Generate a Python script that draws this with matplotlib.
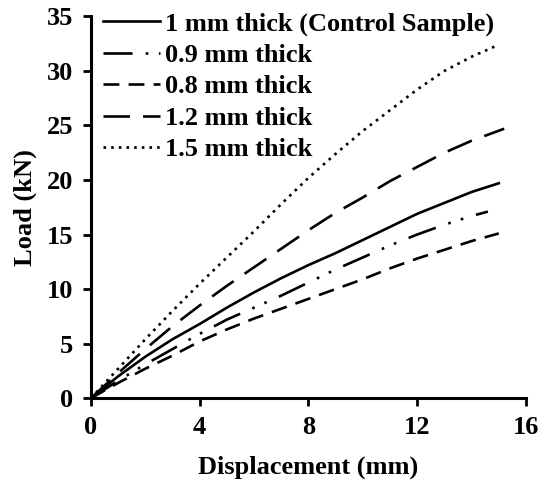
import matplotlib
matplotlib.use("Agg")
import matplotlib.pyplot as plt

# displacement (mm) / load (kN)
x_10 = [0, 1, 2, 3, 4, 5, 6, 7, 8, 9, 10, 11, 12, 13, 14, 15]
y_10 = [0, 2.0, 3.8, 5.4, 6.8, 8.3, 9.7, 11.0, 12.2, 13.3, 14.5, 15.7, 16.9, 17.9, 18.9, 19.7]

x_09 = [0, 1, 2, 3, 4, 5, 6, 7, 8, 9, 10, 11, 12, 13, 14, 14.6]
y_09 = [0, 1.6, 3.1, 4.5, 5.9, 7.2, 8.3, 9.4, 10.6, 11.8, 12.9, 14.0, 15.0, 15.9, 16.7, 17.1]

x_08 = [0, 1, 2, 3, 4, 5, 6, 7, 8, 9, 10, 11, 12, 13, 14, 15]
y_08 = [0, 1.4, 2.7, 3.9, 5.2, 6.3, 7.3, 8.2, 9.1, 10.0, 10.9, 11.9, 12.8, 13.6, 14.4, 15.1]

x_12 = [0, 1, 2, 3, 4, 5, 6, 7, 8, 9, 10, 11, 12, 13, 14, 15.2]
y_12 = [0, 2.3, 4.5, 6.6, 8.5, 10.3, 12.0, 13.7, 15.4, 17.0, 18.4, 19.9, 21.2, 22.5, 23.6, 24.7]

x_15 = [0, 1, 2, 3, 4, 5, 6, 7, 8, 9, 10, 11, 12, 13, 14, 15]
y_15 = [0, 2.7, 5.4, 8.0, 10.5, 12.9, 15.3, 17.8, 20.2, 22.4, 24.5, 26.4, 28.3, 30.0, 31.3, 32.4]

labels = ["1 mm thick (Control Sample)", "0.9 mm thick", "0.8 mm thick",
          "1.2 mm thick", "1.5 mm thick"]

x_ticks = [0, 4, 8, 12, 16]
y_ticks = [0, 5, 10, 15, 20, 25, 30, 35]

plt.rcParams["font.family"] = ["Liberation Serif", "DejaVu Serif"]
plt.rcParams["font.weight"] = "bold"

fs = 19
fig = plt.figure(figsize=(5.4, 4.82), dpi=100)
ax = fig.add_axes([0.1685, 0.174, 0.8055, 0.792])

lw = 1.9
ax.plot(x_10, y_10, color="black", lw=lw, label=labels[0])
ax.plot(x_09, y_09, color="black", lw=lw, dashes=(11, 5, 1, 4, 1, 5), label=labels[1])
ax.plot(x_08, y_08, color="black", lw=lw, dashes=(6, 3.5), label=labels[2])
ax.plot(x_12, y_12, color="black", lw=lw, dashes=(10, 5), label=labels[3])
ax.plot(x_15, y_15, color="black", lw=lw, dashes=(1, 1.9), label=labels[4])

ax.set_xlim(0, 16)
ax.set_ylim(0, 35)
ax.set_xticks(x_ticks)
ax.set_yticks(y_ticks)
ax.tick_params(direction="out", length=6, width=2.0, labelsize=fs, pad=7)
for lab in ax.get_xticklabels() + ax.get_yticklabels():
    lab.set_fontweight("bold")

for side in ["top", "right"]:
    ax.spines[side].set_visible(False)
for side in ["left", "bottom"]:
    ax.spines[side].set_linewidth(2.2)

ax.set_xlabel("Displacement (mm)", fontsize=fs, fontweight="bold", labelpad=12)
ax.set_ylabel("Load (kN)", fontsize=fs, fontweight="bold", labelpad=7)

leg = ax.legend(loc="upper left", frameon=False, fontsize=fs, handlelength=2.15,
                handletextpad=0.2, labelspacing=0.3, borderaxespad=0.0,
                borderpad=0.0, bbox_to_anchor=(0.028, 1.012))
for t in leg.get_texts():
    t.set_fontweight("bold")

fig.savefig("out.png", dpi=100)
